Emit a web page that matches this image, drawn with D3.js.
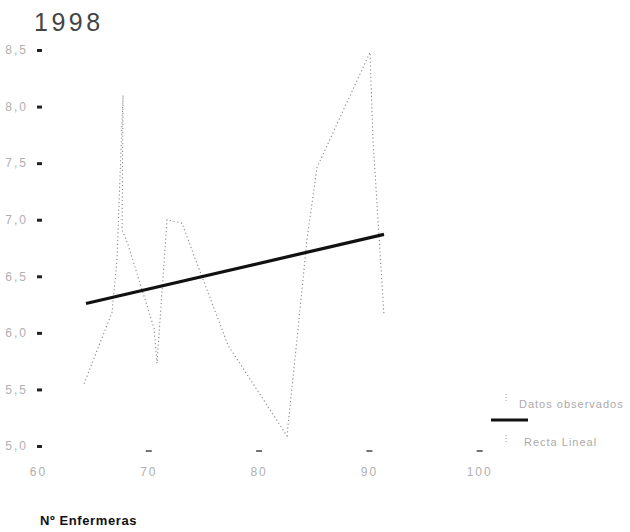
<!DOCTYPE html>
<html>
<head>
<meta charset="utf-8">
<script src="https://cdn.jsdelivr.net/npm/d3@7"></script>
<style>
  html, body { margin: 0; padding: 0; background: #fff; }
  svg { display: block; }
</style>
</head>
<body>
<svg id="chart" width="630" height="532"></svg>
<script>
// ---- data ----
const title = "1998";
const xAxisTitle = "Nº Enfermeras";
const xTicks = [60, 70, 80, 90, 100];
const yTicks = [5.0, 5.5, 6.0, 6.5, 7.0, 7.5, 8.0, 8.5];
const seriesNames = ["Datos observados", "Recta Lineal"];
// observed data (in drawing order)
const obsX = [64.17, 66.71, 67.16, 67.71, 67.62, 68.16, 70.52, 70.79, 71.70, 73.06, 73.96, 77.23, 82.57, 83.57, 84.38, 85.29, 90.10, 90.37, 91.37];
const obsY = [5.55, 6.18, 6.64, 8.10, 6.91, 6.78, 6.04, 5.73, 7.00, 6.97, 6.73, 5.89, 5.09, 6.03, 6.82, 7.46, 8.48, 7.71, 6.15];
// fitted line end points
const fitX = [64.35, 91.37];
const fitY = [6.26, 6.87];

// ---- scales ----
const svg = d3.select("#chart");
const x = d3.scaleLinear().domain([60, 100]).range([38, 479.2]);
const y = d3.scaleLinear().domain([5.0, 8.5]).range([446, 50]);
const fmt = v => d3.format(".1f")(v).replace(".", ",");
const FONT = "Liberation Sans, Arial, sans-serif";

// title
svg.append("text").attr("x", 34).attr("y", 31)
  .attr("font-family", FONT)
  .attr("font-size", 25).attr("letter-spacing", 3.5)
  .attr("fill", "#444").text(title);

// y axis (ticks + labels, no domain line)
const yAxis = d3.axisLeft(y).tickValues(yTicks).tickFormat(fmt).tickSize(5).tickPadding(9);
const gy = svg.append("g").attr("transform", "translate(42,0)").call(yAxis);
gy.select(".domain").remove();
gy.selectAll(".tick line").attr("stroke", "#222").attr("stroke-width", 3);
gy.selectAll(".tick text").attr("fill", "#b0b0b0").attr("font-size", 12)
  .attr("font-family", FONT).attr("letter-spacing", 2);

// x axis
const xAxis = d3.axisBottom(x).tickValues(xTicks).tickFormat(d3.format("d")).tickSize(0).tickPadding(16);
const gx = svg.append("g").attr("transform", "translate(0,451)").call(xAxis);
gx.select(".domain").remove();
gx.selectAll(".tick").append("line")
  .attr("x1", -3).attr("x2", 3).attr("y1", 0).attr("y2", 0)
  .attr("stroke", "#444").attr("stroke-width", 1.5)
  .filter(d => d === 60).remove();
gx.selectAll(".tick text").attr("fill", "#b0b0b0").attr("font-size", 12)
  .attr("font-family", FONT).attr("letter-spacing", 2);

// x axis title
svg.append("text").attr("x", 40).attr("y", 525)
  .attr("font-family", FONT)
  .attr("font-size", 13).attr("font-weight", "bold").attr("letter-spacing", 0.6)
  .attr("fill", "#111").text(xAxisTitle);

// observed series
const obs = obsX.map((v, i) => [v, obsY[i]]);
const line = d3.line().x(d => x(d[0])).y(d => y(d[1]));
svg.append("path").datum(obs).attr("d", line)
  .attr("fill", "none").attr("stroke", "#8a8a8a").attr("stroke-width", 1.1)
  .attr("stroke-dasharray", "1.2,2.6");

// fitted line
const fit = fitX.map((v, i) => [v, fitY[i]]);
svg.append("path").datum(fit).attr("d", line)
  .attr("fill", "none").attr("stroke", "#111").attr("stroke-width", 3.2);

// legend
const lg = svg.append("g");
lg.append("line").attr("x1", 506).attr("x2", 506).attr("y1", 394).attr("y2", 401)
  .attr("stroke", "#999").attr("stroke-width", 1).attr("stroke-dasharray", "1,2");
lg.append("text").attr("x", 519).attr("y", 408).text(seriesNames[0]);
lg.append("line").attr("x1", 491).attr("x2", 528).attr("y1", 420).attr("y2", 420)
  .attr("stroke", "#111").attr("stroke-width", 3.2);
lg.append("line").attr("x1", 506).attr("x2", 506).attr("y1", 435).attr("y2", 442)
  .attr("stroke", "#999").attr("stroke-width", 1).attr("stroke-dasharray", "1,2");
lg.append("text").attr("x", 524).attr("y", 446).text(seriesNames[1]);
lg.selectAll("text").attr("font-family", FONT)
  .attr("font-size", 11).attr("letter-spacing", 1.0).attr("fill", "#aaa");
</script>
</body>
</html>
